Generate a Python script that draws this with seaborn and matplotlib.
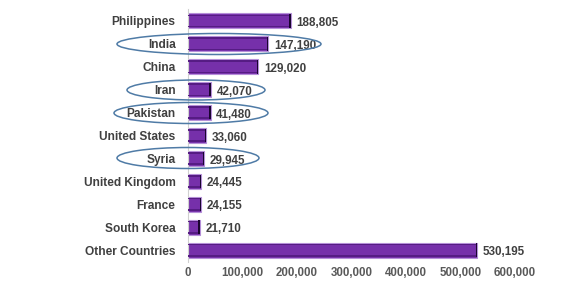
import matplotlib
matplotlib.use("Agg")
import matplotlib.pyplot as plt
from matplotlib.patches import Ellipse, Rectangle
import seaborn as sns
import pandas as pd

countries = ["Philippines", "India", "China", "Iran", "Pakistan", "United States",
             "Syria", "United Kingdom", "France", "South Korea", "Other Countries"]
values = [188805, 147190, 129020, 42070, 41480, 33060, 29945, 24445, 24155, 21710, 530195]
x_ticks = [0, 100000, 200000, 300000, 400000, 500000, 600000]
highlighted = ["India", "Iran", "Pakistan", "Syria"]

sns.set_theme(style="white")
plt.rcParams["font.family"] = ["Liberation Sans", "DejaVu Sans"]

df = pd.DataFrame({"country": countries, "value": values})

fig = plt.figure(figsize=(5.63, 2.94), dpi=100)
ax = fig.add_axes([0.334, 0.11, 0.581, 0.858])

sns.barplot(data=df, x="value", y="country", orient="h", color="#7630AA",
            saturation=1, width=0.66, edgecolor="#b58fd8", linewidth=0.8, ax=ax)

# bevel-style shading: darker inner strips along the long edges and a dark end cap
for bar in ax.patches[:len(values)]:
    x0, y0 = bar.get_x(), bar.get_y()
    w, h = bar.get_width(), bar.get_height()
    ax.add_patch(Rectangle((x0, y0 + h * 0.08), w, h * 0.1, facecolor="#561c84",
                           edgecolor="none", zorder=3))
    ax.add_patch(Rectangle((x0, y0 + h * 0.82), w, h * 0.1, facecolor="#561c84",
                           edgecolor="none", zorder=3))
    cap = 2800
    ax.add_patch(Rectangle((x0 + w - cap, y0 + h * 0.05), cap, h * 0.9,
                           facecolor="#1a0530", edgecolor="none", zorder=4))

labels = [f"{v:,}" for v in values]
texts = ax.bar_label(ax.containers[0], labels=labels, padding=4, fontsize=8.4,
                     fontweight="bold", color="#404040")
for t in texts:
    t.xyann = (4, -1.5)

ax.set_xlim(0, 600000)
ax.set_ylim(len(values) - 0.5, -0.5)
ax.set_xticks(x_ticks)
ax.set_xticklabels([f"{t:,}" for t in x_ticks])
ax.set_xlabel("")
ax.set_ylabel("")
ax.tick_params(axis="both", length=0)
ax.tick_params(axis="y", pad=9, labelsize=8.6, labelcolor="#404040")
ax.tick_params(axis="x", pad=4, labelsize=8.3, labelcolor="#595959")
for lab in ax.get_xticklabels() + ax.get_yticklabels():
    lab.set_fontweight("bold")

for side in ["top", "right", "bottom"]:
    ax.spines[side].set_visible(False)
ax.spines["left"].set_color("#d0d0d0")
ax.spines["left"].set_linewidth(0.8)

# ellipses around the highlighted country names (figure pixel coords)
ellipse_specs = {
    "India": (219, 44, 204, 21),
    "Iran": (196, 90, 138, 20),
    "Pakistan": (191, 113, 154, 21),
    "Syria": (188, 158, 142, 21),
}
W, H = 563, 294
for name in highlighted:
    cx, cy, ew, eh = ellipse_specs[name]
    fig.patches.append(Ellipse((cx / W, 1 - cy / H), ew / W, eh / H,
                               transform=fig.transFigure, fill=False,
                               edgecolor="#4f7ba6", linewidth=1.1, zorder=10))

fig.savefig("out.png", dpi=100)
